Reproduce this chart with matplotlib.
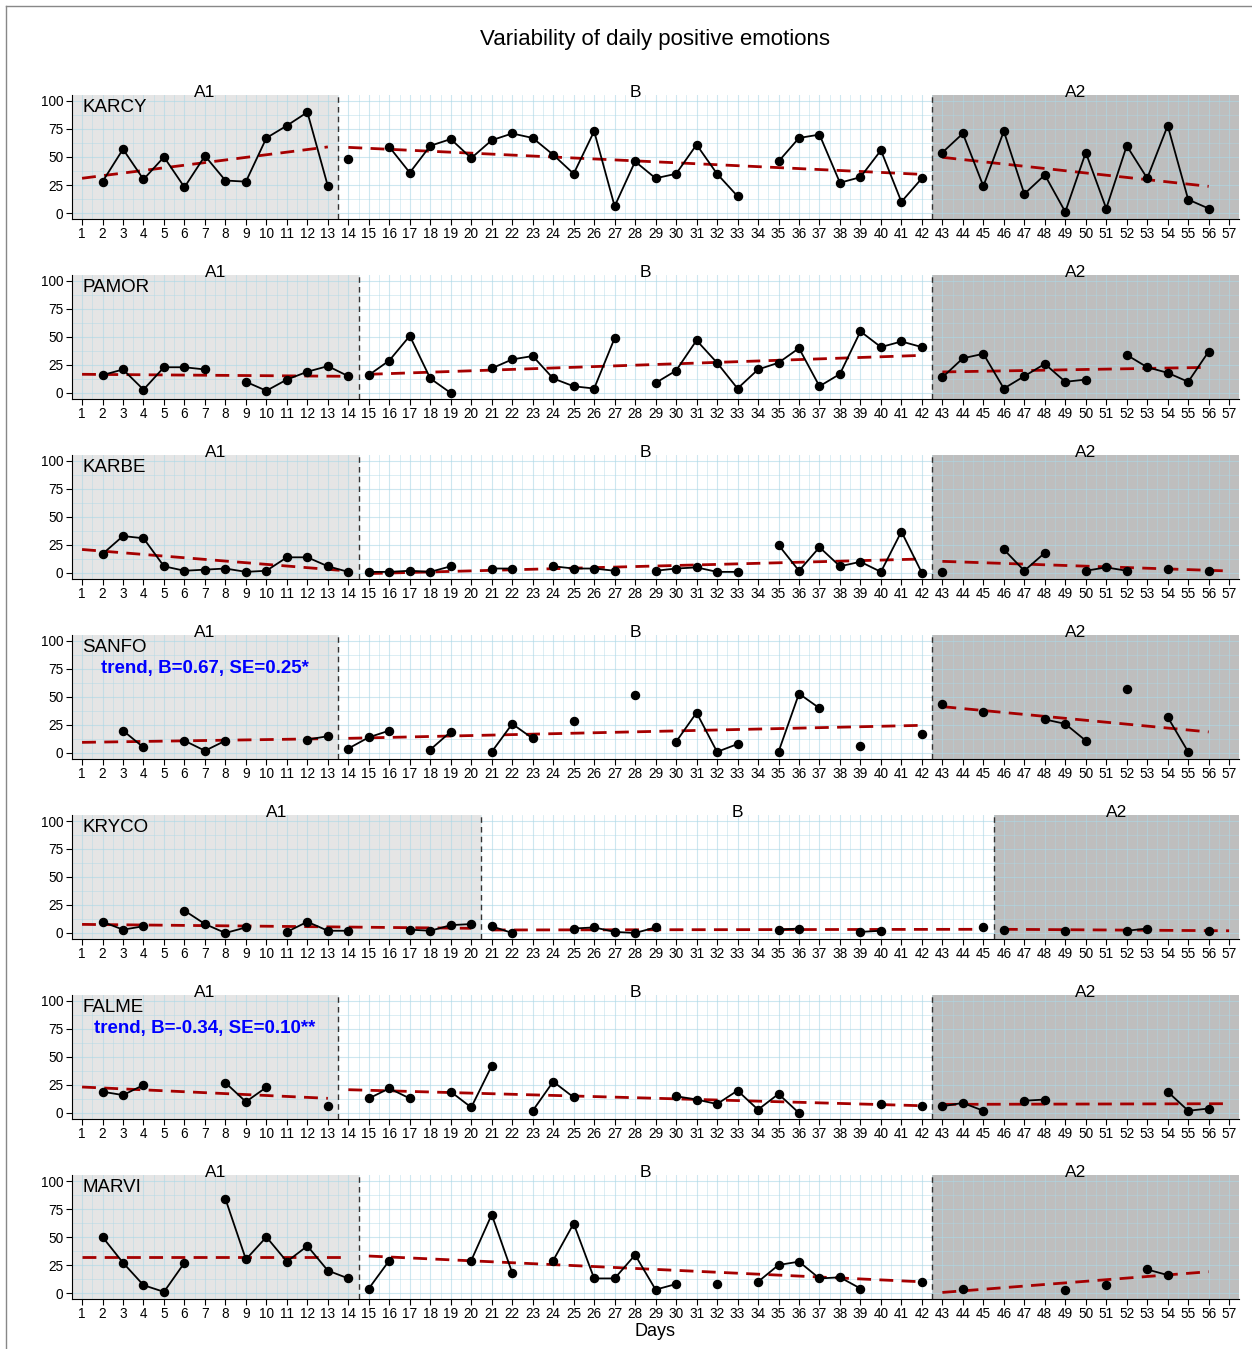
import numpy as np
import matplotlib
matplotlib.use("Agg")
import matplotlib.pyplot as plt
from matplotlib.lines import Line2D

N = None
days = list(range(1, 58))

karcy = [N, 28, 57, 30, 50, 23, 51, 29, 28, 67, 78, 90, 24, 48, N, 59, 36, 60, 66, 49,
         65, 71, 67, 52, 35, 73, 6, 46, 31, 35, 61, 35, 15, N, 46, 67, 70, 27, 32, 56,
         10, 31, 54, 71, 24, 73, 17, 34, 1, 54, 4, 60, 31, 78, 12, 4, N]
pamor = [N, 16, 21, 3, 23, 23, 21, N, 10, 2, 12, 19, 24, 15, 16, 29, 51, 13, 0, N,
         22, 30, 33, 13, 6, 4, 49, N, 9, 20, 47, 27, 4, 21, 27, 40, 6, 17, 55, 41,
         46, 41, 14, 31, 35, 4, 15, 26, 10, 12, N, 34, 23, 18, 10, 37, N]
karbe = [N, 17, 33, 31, 6, 2, 3, 4, 1, 2, 14, 14, 6, 1, 1, 1, 2, 1, 6, N,
         4, 4, N, 6, 4, 4, 2, N, 2, 4, 5, 1, 1, N, 25, 2, 23, 6, 10, 1,
         37, 0, 1, N, N, 21, 2, 18, N, 2, 5, 2, N, 4, N, 2, N]
sanfo = [N, N, 20, 5, N, 11, 2, 11, N, N, N, 12, 15, 4, 14, 20, N, 3, 19, N,
         1, 26, 13, N, 29, N, N, 52, N, 10, 36, 1, 8, N, 1, 53, 40, N, 6, N,
         N, 17, 44, N, 37, N, N, 30, 26, 11, N, 57, N, 32, 1, N, N]
kryco = [N, 10, 3, 6, N, 20, 8, 0, 5, N, 1, 10, 2, 2, N, N, 3, 2, 7, 8,
         6, 0, N, N, 4, 5, 1, 0, 5, N, N, N, N, N, 3, 4, N, N, 1, 2,
         N, N, N, N, 5, 3, N, N, 2, N, N, 2, 4, N, N, 2, N]
falme = [N, 19, 16, 25, N, N, N, 27, 10, 23, N, N, 6, N, 13, 22, 13, N, 19, 5,
         42, N, 2, 28, 14, N, N, N, N, 15, 12, 8, 20, 3, 17, 0, N, N, N, 8,
         N, 6, 6, 9, 2, N, 11, 12, N, N, N, N, N, 19, 2, 4, N]
marvi = [N, 50, 27, 7, 1, 27, N, 84, 30, 50, 28, 42, 20, 13, 4, 29, N, N, N, 29,
         70, 18, N, 29, 62, 13, 13, 34, 3, 8, N, 8, N, 10, 25, 28, 13, 14, 4, N,
         N, 10, N, 4, N, N, N, N, 3, N, 7, N, 21, 16, N, N, N]

names = ["KARCY", "PAMOR", "KARBE", "SANFO", "KRYCO", "FALME", "MARVI"]
phases = ["A1", "B", "A2"]
# last day of A1, B, A2 for each participant
phase_ends = [(13, 42, 56), (14, 42, 56), (14, 42, 57), (13, 42, 56),
              (20, 45, 57), (13, 42, 57), (14, 42, 56)]
# fitted trend value at first and last day of each phase
trends = [
    [(31, 59), (58.6, 34.5), (49.7, 23.8)],
    [(16.7, 14.9), (16.7, 33.6), (18.8, 22.9)],
    [(21, 1.8), (-0.5, 12.5), (10.4, 1.8)],
    [(9.5, 12.8), (13.1, 24.7), (41.4, 18.8)],
    [(7.7, 4.2), (2.7, 3.3), (3.3, 2.0)],
    [(23.2, 13.1), (20.8, 6.5), (7.7, 8.3)],
    [(32, 32), (33, 10), (0.5, 19)],
]
notes = ["", "", "", "trend, B=0.67, SE=0.25*", "", "trend, B=-0.34, SE=0.10**", ""]

plt.rcParams["font.family"] = ["Liberation Sans", "DejaVu Sans"]
W, H = 1252, 1349


def draw_panel(ax, name, vals, ends, trend, note):
    x = np.array(days)
    y = np.array([np.nan if v is None else v for v in vals], float)
    ax.set_xlim(0.5, 57.5)
    ax.set_ylim(-5, 105)
    ax.axvspan(0.5, ends[0] + 0.5, color="#e5e5e5", lw=0, zorder=0.1)
    ax.axvspan(ends[1] + 0.5, 57.5, color="#bebebe", lw=0, zorder=0.1)
    starts = [1, ends[0] + 1, ends[1] + 1]
    for i, (s, e) in enumerate(zip(starts, ends)):
        m = (x >= s) & (x <= e)
        ax.plot(x[m], y[m], color="black", lw=1.3, marker="o", ms=5.8, zorder=3)
        ax.plot([s, e], trend[i], color="#a50000", lw=2.0, ls=(0, (5, 3)), zorder=2)
        ax.text((s + e) / 2, 0.99, phases[i], transform=ax.get_xaxis_transform(),
                ha="center", va="baseline", fontsize=12.5)
    for b in ends[:2]:
        ax.axvline(b + 0.5, color="#333333", lw=1, ls=(0, (4, 3)), zorder=2.5)
    ax.text(1, 94, name, fontsize=13.5, ha="left", va="center", zorder=4)
    if note:
        ax.text(7, 75, note, color="blue", fontweight="bold", fontsize=13.5,
                ha="center", va="center", zorder=4)

    ax.set_xticks(days)
    ax.set_xticks(np.arange(1.5, 57.5, 1), minor=True)
    ax.set_yticks([0, 25, 50, 75, 100])
    ax.set_yticks([12.5, 37.5, 62.5, 87.5], minor=True)
    ax.set_axisbelow(True)
    ax.grid(which="major", color="#add8e6", alpha=0.6, lw=0.8)
    ax.grid(which="minor", color="#add8e6", alpha=0.5, lw=0.6)
    ax.tick_params(which="major", labelsize=9.8, length=4, pad=2)
    ax.tick_params(which="minor", length=0)
    for sp in ["top", "right"]:
        ax.spines[sp].set_visible(False)


fig = plt.figure(figsize=(W / 100, H / 100), dpi=100)
series = [karcy, pamor, karbe, sanfo, kryco, falme, marvi]
for k in range(7):
    top = 95.4 + 180 * k
    ax = fig.add_axes([71.8 / W, 1 - (top + 123.2) / H, 1167.6 / W, 123.2 / H])
    draw_panel(ax, names[k], series[k], phase_ends[k], trends[k], notes[k])

fig.text(655 / W, 1 - 40 / H, "Variability of daily positive emotions",
         ha="center", va="center", fontsize=16)
fig.text(655 / W, 1 - 1331 / H, "Days", ha="center", va="center", fontsize=13)
fig.add_artist(Line2D([6 / W, 6 / W], [0, 1 - 6 / H], color="#888888", lw=1))
fig.add_artist(Line2D([6 / W, 1], [1 - 6 / H, 1 - 6 / H], color="#888888", lw=1))

fig.savefig("out.png", dpi=100)
